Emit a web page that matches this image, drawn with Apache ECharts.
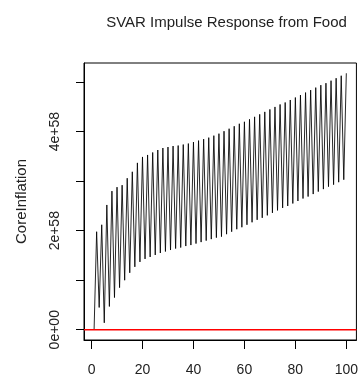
<!DOCTYPE html>
<html>
<head>
<meta charset="utf-8">
<script src="https://cdn.jsdelivr.net/npm/echarts@6/dist/echarts.min.js"></script>
<style>
html,body{margin:0;padding:0;background:#fff;}
#chart{width:361px;height:378px;}
</style>
</head>
<body>
<div id="chart"></div>
<script>
// Impulse response values (CoreInflation, response to Food shock), horizons 1..100
const horizons = [1,2,3,4,5,6,7,8,9,10,11,12,13,14,15,16,17,18,19,20,21,22,23,24,25,26,27,28,29,30,31,32,33,34,35,36,37,38,39,40,41,42,43,44,45,46,47,48,49,50,51,52,53,54,55,56,57,58,59,60,61,62,63,64,65,66,67,68,69,70,71,72,73,74,75,76,77,78,79,80,81,82,83,84,85,86,87,88,89,90,91,92,93,94,95,96,97,98,99,100];
const response = [
  0, 1.98e58, 0.45e58, 2.12e58, 0.14e58, 2.52e58, 0.47e58, 2.80e58, 0.65e58, 2.88e58,
  0.85e58, 2.92e58, 1.00e58, 3.06e58, 1.15e58, 3.19e58, 1.27e58, 3.37e58, 1.37e58, 3.49e58,
  1.43e58, 3.53e58, 1.47e58, 3.58e58, 1.51e58, 3.63e58, 1.55e58, 3.67e58, 1.58e58, 3.69e58,
  1.61e58, 3.71e58, 1.64e58, 3.72e58, 1.66e58, 3.74e58, 1.69e58, 3.76e58, 1.71e58, 3.79e58,
  1.74e58, 3.82e58, 1.77e58, 3.85e58, 1.80e58, 3.88e58, 1.83e58, 3.92e58, 1.86e58, 3.96e58,
  1.88e58, 4.01e58, 1.93e58, 4.06e58, 1.98e58, 4.11e58, 2.03e58, 4.16e58, 2.07e58, 4.20e58,
  2.12e58, 4.25e58, 2.17e58, 4.30e58, 2.22e58, 4.35e58, 2.26e58, 4.40e58, 2.31e58, 4.45e58,
  2.36e58, 4.50e58, 2.41e58, 4.55e58, 2.46e58, 4.59e58, 2.50e58, 4.64e58, 2.55e58, 4.69e58,
  2.60e58, 4.74e58, 2.65e58, 4.79e58, 2.69e58, 4.84e58, 2.74e58, 4.89e58, 2.79e58, 4.94e58,
  2.84e58, 4.98e58, 2.89e58, 5.03e58, 2.93e58, 5.08e58, 2.98e58, 5.13e58, 3.03e58, 5.18e58
];
const xTicks = [0, 20, 40, 60, 80, 100];
const yTicks = [0, 1e58, 2e58, 3e58, 4e58, 5e58];
const yLabelValues = [0, 2e58, 4e58];
const yLabelTexts = ['0e+00', '2e+58', '4e+58'];
const referenceLevel = 0;
const xRange = [-2.96, 103.96];
const yRange = [-0.2072e58, 5.3872e58];

const FONT = '"Liberation Sans", Arial, sans-serif';
const chart = echarts.init(document.getElementById('chart'), null, {renderer: 'canvas'});

chart.setOption({
  animation: false,
  backgroundColor: '#ffffff',
  title: {
    text: 'SVAR Impulse Response from Food',
    left: 221.5,
    textAlign: 'center',
    top: 10,
    textStyle: {fontFamily: FONT, fontSize: 15, fontWeight: 'normal', color: '#222'}
  },
  grid: {
    left: 84, right: 2, top: 63, bottom: 38,
    show: true, borderColor: '#000', borderWidth: 1, backgroundColor: 'transparent'
  },
  xAxis: {
    type: 'value',
    min: xRange[0], max: xRange[1],
    axisLine: {show: true, onZero: false, lineStyle: {color: '#000', width: 1}},
    axisTick: {show: true, inside: false, length: 9, customValues: xTicks, lineStyle: {color: '#000'}},
    axisLabel: {customValues: xTicks, margin: 23, fontFamily: FONT, fontSize: 14, color: '#222'},
    splitLine: {show: false}
  },
  yAxis: {
    type: 'value',
    min: yRange[0], max: yRange[1],
    name: 'CoreInflation',
    nameLocation: 'middle',
    nameRotate: 90,
    nameGap: 55,
    nameTextStyle: {fontFamily: FONT, fontSize: 15, color: '#222'},
    axisLine: {show: true, onZero: false, lineStyle: {color: '#000', width: 1}},
    axisTick: {show: true, inside: false, length: 8, customValues: yTicks, lineStyle: {color: '#000'}},
    axisLabel: {
      customValues: yLabelValues,
      rotate: 90,
      margin: 22,
      fontFamily: FONT, fontSize: 14, color: '#222',
      formatter: function (v) {
        for (let i = 0; i < yLabelValues.length; i++) {
          if (Math.abs(v - yLabelValues[i]) < 1e55) return yLabelTexts[i];
        }
        return '';
      }
    },
    splitLine: {show: false}
  },
  series: [{
    name: 'response',
    type: 'line',
    data: horizons.map((h, i) => [h, response[i]]),
    showSymbol: false,
    symbol: 'none',
    z: 2,
    lineStyle: {color: '#000', width: 0.85}
  }, {
    name: 'zero',
    type: 'line',
    data: [[xRange[0], referenceLevel], [xRange[1], referenceLevel]],
    showSymbol: false,
    symbol: 'none',
    silent: true,
    z: 5,
    color: '#ff0000',
    lineStyle: {color: '#ff0000', width: 1.7}
  }]
});
</script>
</body>
</html>
